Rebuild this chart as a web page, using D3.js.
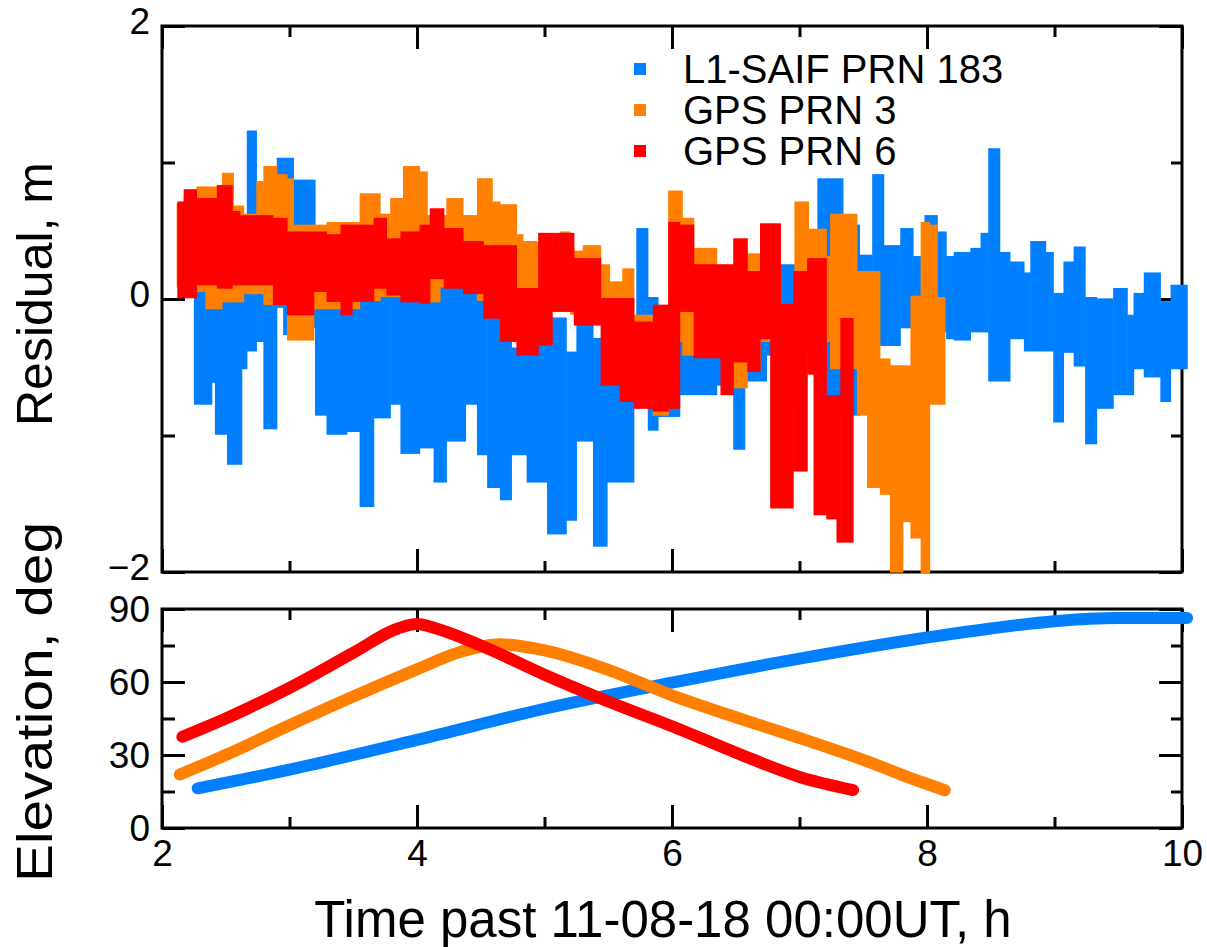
<!DOCTYPE html>
<html><head><meta charset="utf-8">
<script src="https://cdn.jsdelivr.net/npm/d3@7"></script>
<style>
body{margin:0;background:#fff}
text{font-family:"Liberation Sans",Arial,Helvetica,sans-serif;fill:#000}
</style>
</head><body>
<svg id="chart" width="1207" height="947"></svg>
<script>
// ---------------- data ----------------
const seriesNames = ["L1-SAIF PRN 183", "GPS PRN 3", "GPS PRN 6"];
const seriesColors = ["#0080ff", "#ff8000", "#ff0000"];

const xMajorTicks = [2, 4, 6, 8, 10];
const xMinorTicks = [3, 5, 7, 9];
const residMajorTicks = [-2, 0, 2];
const residMinorTicks = [-1, 1];
const elevMajorTicks = [0, 30, 60, 90];
const elevMinorTicks = [15, 45, 75];

const xTitle = "Time past 11-08-18 00:00UT, h";
const residTitle = "Residual, m";
const elevTitle = "Elevation, deg";

// residual envelopes: [time start (h), lowest residual (m), highest residual (m)]
const residualBlue = [
  [2.25,-0.76,0.22],[2.39,-0.60,0.22],[2.415,-0.98,0.22],[2.51,-1.20,0.25],[2.625,-0.50,0.40],
  [2.665,-0.37,1.22],[2.74,-0.30,0.50],[2.795,-0.94,0.50],[2.90,-0.05,1.02],[2.95,-0.25,1.02],
  [3.03,-0.25,0.86],[3.08,-0.20,0.86],[3.20,-0.84,0.30],[3.29,-0.98,0.20],[3.45,-0.96,0.20],
  [3.55,-1.51,0.20],[3.66,-0.86,0.25],[3.79,-0.76,0.20],[3.87,-1.12,0.20],[4.02,-1.08,0.10],
  [4.13,-1.33,0.20],[4.23,-1.03,0.10],[4.38,-0.76,0.10],[4.47,-1.13,0.00],[4.55,-1.37,-0.10],
  [4.65,-1.46,-0.30],[4.74,-1.13,-0.37],[4.86,-1.33,-0.30],[5.02,-1.71,-0.15],[5.17,-1.61,-0.40],
  [5.25,-1.03,-0.15],[5.38,-1.80,-0.30],[5.49,-1.33,-0.40],[5.70,-0.50,-0.30],[5.72,-0.60,0.505],
  [5.81,-0.95,0.00],[5.89,-0.85,-0.20],[6.06,-0.69,-0.10],[6.35,-0.62,-0.30],[6.48,-1.09,-0.40],
  [6.57,-0.59,-0.20],[6.74,-0.40,0.24],[6.96,-0.40,0.20],[7.14,-0.84,0.87],[7.34,-0.84,0.53],
  [7.47,-0.30,0.31],[7.57,-0.33,0.90],[7.66,-0.33,0.38],[7.79,-0.20,0.505],[7.89,-0.30,0.30],
  [7.98,-0.30,0.60],[8.08,-0.23,0.48],[8.15,-0.28,0.30],[8.21,-0.29,0.33],[8.34,-0.23,0.36],
  [8.42,-0.23,0.47],[8.48,-0.59,1.09],[8.57,-0.59,0.33],[8.65,-0.28,0.26],[8.76,-0.37,0.18],
  [8.81,-0.37,0.41],[8.93,-0.37,0.33],[8.99,-0.89,0.03],[9.07,-0.38,0.26],[9.15,-0.48,0.37],
  [9.24,-1.05,0.00],[9.33,-0.79,-0.01],[9.46,-0.69,0.066],[9.57,-0.69,-0.13],[9.62,-0.50,0.03],
  [9.70,-0.56,0.18],[9.83,-0.74,-0.03],[9.91,-0.50,0.09]
];
const residualBlueEnd = 10.04;

const residualOrange = [
  [2.115,0.10,0.69],[2.17,0.10,0.75],[2.27,0.066,0.81],[2.34,-0.06,0.81],[2.43,-0.06,0.75],
  [2.47,-0.01,0.91],[2.56,-0.01,0.67],[2.64,0.05,0.61],[2.74,0.05,0.85],[2.795,-0.03,0.96],
  [2.90,-0.03,0.90],[2.98,-0.29,0.87],[3.03,-0.29,0.53],[3.19,-0.06,0.53],[3.29,-0.06,0.55],
  [3.55,0.00,0.76],[3.71,0.03,0.61],[3.79,0.03,0.725],[3.89,0.03,0.96],[4.02,-0.01,0.92],
  [4.08,-0.01,0.60],[4.18,0.10,0.60],[4.23,0.10,0.725],[4.36,0.10,0.60],[4.47,0.00,0.87],
  [4.59,-0.05,0.70],[4.65,-0.10,0.68],[4.78,0.09,0.46],[4.83,0.00,0.41],[4.94,-0.07,0.40],
  [5.12,-0.07,0.48],[5.20,-0.10,0.34],[5.30,-0.10,0.38],[5.44,-0.10,0.24],[5.51,-0.15,0.115],
  [5.61,-0.15,0.21],[5.70,-0.72,-0.13],[5.85,-0.84,-0.13],[5.97,-0.30,0.78],[6.08,-0.40,0.58],
  [6.17,-0.40,0.36],[6.35,-0.40,0.20],[6.48,-0.64,0.20],[6.59,-0.50,0.32],[6.69,-0.30,0.20],
  [6.85,-0.76,-0.06],[6.96,-0.30,0.70],[7.07,-0.30,0.50],[7.21,-0.30,0.30],[7.24,-0.50,0.61],
  [7.45,-0.84,0.19],[7.53,-1.37,0.19],[7.63,-1.42,-0.45],[7.71,-1.99,-0.50],[7.81,-1.62,-0.50],
  [7.87,-1.74,0.01],[7.95,-2.00,0.55],[8.02,-0.76,0.53],[8.08,-0.76,0.00]
];
const residualOrangeEnd = 8.14;

const residualRed = [
  [2.12,0.02,0.70],[2.17,0.02,0.79],[2.27,0.115,0.725],[2.43,0.09,0.82],[2.55,0.115,0.63],
  [2.61,0.115,0.60],[2.87,-0.03,0.58],[2.98,-0.105,0.48],[3.19,0.066,0.48],[3.29,-0.007,0.46],
  [3.40,-0.105,0.53],[3.49,-0.007,0.53],[3.66,0.09,0.58],[3.76,0.04,0.43],[3.87,-0.01,0.48],
  [4.02,-0.02,0.53],[4.10,0.16,0.65],[4.21,0.09,0.505],[4.36,0.05,0.41],[4.52,-0.13,0.38],
  [4.65,-0.30,0.38],[4.78,-0.40,0.066],[4.95,-0.325,0.47],[5.06,-0.08,0.47],[5.23,-0.18,0.285],
  [5.44,-0.62,-0.007],[5.59,-0.74,-0.007],[5.70,-0.79,-0.18],[5.85,-0.81,-0.056],[5.97,-0.79,0.55],
  [6.06,-0.08,0.53],[6.17,-0.42,0.24],[6.38,-0.69,0.24],[6.48,-0.45,0.43],[6.59,-0.52,0.19],
  [6.69,-0.28,0.54],[6.77,-1.52,0.54],[6.85,-1.52,-0.05],[6.95,-1.25,0.19],[7.06,-0.54,0.285],
  [7.11,-1.57,0.285],[7.21,-1.60,-0.72],[7.29,-1.77,-0.72],[7.32,-1.77,-0.154]
];
const residualRedEnd = 7.42;

// elevation: [time (h), elevation (deg)]
const elevationBlue = [[2.28,16.3],[3,24],[4,36.2],[5,49],[6,59.7],[7,69.6],[7.95,77.9],[8.5,82],[9,85],[9.5,86.3],[10.04,86.3]];
const elevationOrange = [[2.14,22],[2.5,30],[3,42.2],[3.5,54],[4,65.2],[4.35,72.5],[4.65,75.5],[5,73],[5.5,65],[6,54.5],[6.5,45.5],[7,37],[7.5,28],[7.95,19],[8.14,15.5]];
const elevationRed = [[2.16,37.5],[2.5,45],[3,57.6],[3.5,72],[3.85,82],[4,83.8],[4.15,82],[4.5,75],[5,63],[5.5,52],[6,41.8],[6.5,31],[7,21],[7.42,15.6]];

// ---------------- layout ----------------
const L = 162, R = 1182;
const topY0 = 26, topY1 = 572;
const botY0 = 609, botY1 = 828;
const majorLen = 23, minorLen = 11;
const tickFont = 37;

const svg = d3.select("#chart");
const x = d3.scaleLinear().domain([2, 10]).range([L, R]);
const yRes = d3.scaleLinear().domain([-2, 2]).range([topY1, topY0]);
const yEl = d3.scaleLinear().domain([0, 90]).range([botY1, botY0]);

function styleAxis(g) {
  g.select(".domain").remove();
  g.selectAll(".tick line").attr("stroke", "#000").attr("stroke-width", 3);
  g.selectAll(".tick text").style("font-size", tickFont + "px")
    .style("font-family", '"Liberation Sans",Arial,sans-serif').attr("fill", "#000");
}

function frame(y, y0, y1, yMaj, yMin, labelX, labelDy) {
  const g = svg.append("g");
  g.append("g").attr("transform", `translate(0,${y1})`)
    .call(d3.axisBottom(x).tickValues(xMajorTicks).tickSizeInner(-majorLen).tickSizeOuter(0)
      .tickPadding(12).tickFormat(labelX ? d3.format("d") : () => ""))
    .call(styleAxis);
  g.append("g").attr("transform", `translate(0,${y1})`)
    .call(d3.axisBottom(x).tickValues(xMinorTicks).tickSizeInner(-minorLen).tickSizeOuter(0).tickFormat(() => ""))
    .call(styleAxis);
  g.append("g").attr("transform", `translate(0,${y0})`)
    .call(d3.axisTop(x).tickValues(xMajorTicks).tickSizeInner(-majorLen).tickSizeOuter(0).tickFormat(() => ""))
    .call(styleAxis);
  g.append("g").attr("transform", `translate(0,${y0})`)
    .call(d3.axisTop(x).tickValues(xMinorTicks).tickSizeInner(-minorLen).tickSizeOuter(0).tickFormat(() => ""))
    .call(styleAxis);
  const la = g.append("g").attr("transform", `translate(${L},0)`)
    .call(d3.axisLeft(y).tickValues(yMaj).tickSizeInner(-majorLen).tickSizeOuter(0)
      .tickPadding(12).tickFormat(d3.format("d")))
    .call(styleAxis);
  la.selectAll(".tick text").attr("dy", labelDy);
  g.append("g").attr("transform", `translate(${L},0)`)
    .call(d3.axisLeft(y).tickValues(yMin).tickSizeInner(-minorLen - 2).tickSizeOuter(0).tickFormat(() => ""))
    .call(styleAxis);
  g.append("g").attr("transform", `translate(${R},0)`)
    .call(d3.axisRight(y).tickValues(yMaj).tickSizeInner(-majorLen).tickSizeOuter(0).tickFormat(() => ""))
    .call(styleAxis);
  g.append("g").attr("transform", `translate(${R},0)`)
    .call(d3.axisRight(y).tickValues(yMin).tickSizeInner(-minorLen).tickSizeOuter(0).tickFormat(() => ""))
    .call(styleAxis);
  g.append("rect").attr("x", L).attr("y", y0).attr("width", R - L).attr("height", y1 - y0)
    .attr("fill", "none").attr("stroke", "#000").attr("stroke-width", 3);
}

frame(yRes, topY0, topY1, residMajorTicks, residMinorTicks, false, "0.2em");
frame(yEl, botY0, botY1, elevMajorTicks, elevMinorTicks, true, "0.33em");

// ---------------- residual bands ----------------
function bands(data, end, color) {
  const g = svg.append("g");
  g.selectAll("rect").data(data).join("rect")
    .attr("x", d => x(d[0]))
    .attr("width", (d, i) => x(i + 1 < data.length ? data[i + 1][0] : end) - x(d[0]) + 0.6)
    .attr("y", d => yRes(d[2]) - 2)
    .attr("height", d => yRes(d[1]) - yRes(d[2]) + 4)
    .attr("fill", color);
}
bands(residualBlue, residualBlueEnd, seriesColors[0]);
bands(residualOrange, residualOrangeEnd, seriesColors[1]);
bands(residualRed, residualRedEnd, seriesColors[2]);

// ---------------- elevation lines ----------------
const line = d3.line().x(d => x(d[0])).y(d => yEl(d[1])).curve(d3.curveMonotoneX);
[[elevationBlue, 0], [elevationOrange, 1], [elevationRed, 2]].forEach(([d, i]) => {
  svg.append("path").datum(d).attr("d", line)
    .attr("fill", "none").attr("stroke", seriesColors[i])
    .attr("stroke-width", 12).attr("stroke-linecap", "round");
});

// ---------------- legend ----------------
const legendY = [69, 110, 151];
seriesNames.forEach((name, i) => {
  svg.append("rect").attr("x", 634).attr("y", legendY[i] - 6).attr("width", 12).attr("height", 12)
    .attr("fill", seriesColors[i]);
  svg.append("text").attr("x", 683).attr("y", legendY[i] + 14)
    .style("font-size", "40px").text(name);
});

// ---------------- titles ----------------
svg.append("text").attr("x", 663).attr("y", 937).attr("text-anchor", "middle")
  .style("font-size", "51px").text(xTitle);
svg.append("text").attr("transform", "translate(52,294) rotate(-90)").attr("text-anchor", "middle")
  .style("font-size", "50px").text(residTitle);
svg.append("text").attr("transform", "translate(52,702) rotate(-90)").attr("text-anchor", "middle")
  .attr("textLength", 360).attr("lengthAdjust", "spacingAndGlyphs")
  .style("font-size", "50px").text(elevTitle);
</script>
</body></html>
